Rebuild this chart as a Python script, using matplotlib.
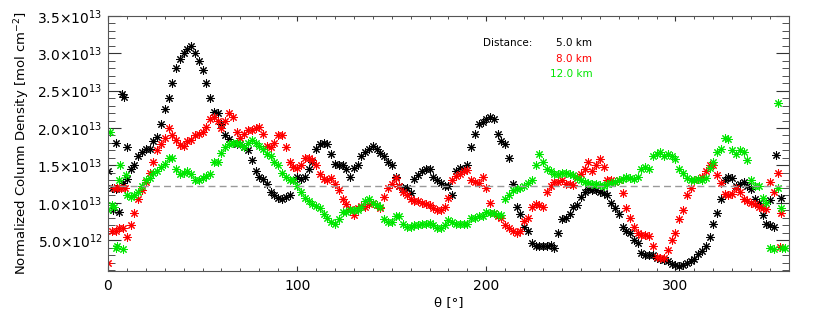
import numpy as np
import matplotlib
matplotlib.use("Agg")
import matplotlib.pyplot as plt
from matplotlib.ticker import FixedLocator, MultipleLocator

SCALE = 1e13
theta = np.arange(0, 360, 2)
nan = np.nan

dens_5km = [
    1.42, 1.2, 1.18, 0.88, 1.27, 1.32, 1.45, 1.5, 1.62, 1.68,
    1.72, 1.72, 1.82, 1.88, 2.05, 2.25, 2.4, 2.6, 2.8, 2.92,
    3.0, 3.05, 3.1, 3.0, 2.9, 2.78, 2.6, 2.4, 2.22, 2.2,
    2.05, 1.9, 1.85, 1.8, 1.78, 1.78, 1.75, 1.7, 1.57, 1.42,
    1.35, 1.32, 1.25, 1.15, 1.1, 1.07, 1.05, 1.08, 1.1, 1.3,
    1.35, 1.32, 1.35, 1.45, 1.55, 1.72, 1.78, 1.8, 1.78, 1.65,
    1.52, 1.5, 1.5, 1.45, 1.35, 1.47, 1.5, 1.62, 1.68, 1.72,
    1.76, 1.72, 1.66, 1.62, 1.55, 1.5, 1.35, 1.22, 1.2, 1.2,
    1.13, 1.32, 1.37, 1.42, 1.45, 1.45, 1.35, 1.3, 1.26, 1.22,
    1.22, 1.1, 1.42, 1.46, 1.45, 1.5, 1.75, 1.92, 2.05, 2.08,
    2.12, 2.15, 2.12, 1.92, 1.82, 1.78, 1.6, 1.25, 0.95, 0.85,
    0.68, 0.62, 0.47, 0.43, 0.42, 0.42, 0.42, 0.44, 0.4, 0.6,
    0.78, 0.8, 0.85, 0.95, 0.97, 1.08, 1.15, 1.18, 1.17, 1.17,
    1.15, 1.13, 1.1, 1.0, 0.93, 0.85, 0.68, 0.63, 0.6, 0.5,
    0.46, 0.33, 0.3, 0.3, 0.3, 0.27, 0.25, 0.24, 0.22, 0.18,
    0.17, 0.16, 0.17, 0.2, 0.22, 0.25, 0.32, 0.36, 0.42, 0.55,
    0.72, 0.87, 1.05, 1.3, 1.35, 1.33, 1.22, 1.25, 1.28, 1.22,
    1.18, 1.05, 1.0, 0.84, 0.72, 0.7, 0.68, nan, 1.07, nan,
]
extra_theta_5km = [2.5, 4, 7.5, 8.5, 10, 350, 353]
extra_dens_5km = [0.9, 1.8, 2.45, 2.42, 1.75, 1.04, 1.64]

dens_8km = [
    0.2, 0.63, 0.63, 0.66, 0.66, 0.55, 0.7, 0.87, 1.05, 1.17,
    1.28, 1.4, 1.55, 1.7, 1.78, 1.87, 2.0, 1.9, 1.84, 1.77,
    1.76, 1.82, 1.84, 1.9, 1.92, 1.95, 2.02, 2.12, 2.15, 2.1,
    2.0, 2.1, 2.2, 2.15, 1.95, 1.87, 1.92, 1.97, 1.98, 2.0,
    2.02, 1.92, 1.76, 1.75, 1.8, 1.9, 1.9, 1.75, 1.55, 1.48,
    1.47, 1.5, 1.6, 1.6, 1.57, 1.5, 1.38, 1.32, 1.3, 1.33,
    1.25, 1.17, 1.05, 0.98, 0.92, 0.84, 0.93, 0.96, 0.95, 0.98,
    1.0, 0.97, 0.93, 1.08, 1.2, 1.25, 1.33, 1.22, 1.15, 1.1,
    1.05, 1.03, 1.02, 1.0, 0.98, 0.97, 0.93, 0.9, 0.9, 0.95,
    1.07, 1.3, 1.36, 1.38, 1.42, 1.44, 1.3, 1.28, 1.27, 1.35,
    1.2, 1.0, 0.87, 0.83, 0.8, 0.7, 0.66, 0.62, 0.6, 0.63,
    0.76, 0.8, 0.95, 0.98, 0.97, 0.95, 1.15, 1.22, 1.28, 1.28,
    1.3, 1.25, 1.25, 1.24, 1.35, 1.38, 1.45, 1.55, 1.42, 1.5,
    1.58, 1.48, 1.3, 1.3, 1.28, 1.3, 1.13, 0.93, 0.8, 0.68,
    0.6, 0.57, 0.57, 0.56, 0.42, 0.28, 0.26, 0.26, 0.37, 0.5,
    0.6, 0.79, 0.9, 1.1, 1.2, 1.3, 1.32, 1.35, 1.43, 1.5,
    1.5, 1.37, 1.27, 1.12, 1.1, 1.12, 1.2, 1.15, 1.05, 1.02,
    1.0, 0.98, 0.95, 0.93, 0.92, 1.28, 1.15, 1.4, 0.87, nan,
]
extra_theta_8km = [3, 5, 7, 9, 355]
extra_dens_8km = [1.2, 1.2, 1.2, 1.2, 0.41]

dens_12km = [
    0.9, 0.97, 0.4, 1.3, 0.38, 1.1, 1.08, 1.1, 1.15, 1.22,
    1.3, 1.33, 1.4, 1.43, 1.48, 1.52, 1.6, 1.6, 1.45, 1.38,
    1.4, 1.42, 1.38, 1.3, 1.3, 1.33, 1.36, 1.38, 1.55, 1.55,
    1.67, 1.75, 1.78, 1.8, 1.8, 1.78, 1.75, 1.8, 1.84, 1.8,
    1.76, 1.72, 1.65, 1.62, 1.55, 1.5, 1.4, 1.35, 1.3, 1.3,
    1.22, 1.15, 1.06, 1.02, 0.98, 0.96, 0.93, 0.85, 0.8, 0.75,
    0.72, 0.78, 0.88, 0.88, 0.9, 0.9, 0.9, 0.95, 1.02, 1.05,
    1.0, 0.97, 0.95, 0.78, 0.75, 0.74, 0.82, 0.83, 0.72, 0.68,
    0.68, 0.7, 0.7, 0.72, 0.72, 0.73, 0.7, 0.67, 0.66, 0.7,
    0.77, 0.74, 0.72, 0.72, 0.72, 0.72, 0.8, 0.8, 0.82, 0.82,
    0.88, 0.87, 0.86, 0.84, 0.84, 1.05, 1.1, 1.17, 1.18, 1.2,
    1.22, 1.27, 1.3, 1.5, 1.65, 1.55, 1.45, 1.42, 1.39, 1.38,
    1.4, 1.4, 1.38, 1.37, 1.33, 1.3, 1.28, 1.27, 1.25, 1.25,
    1.24, 1.22, 1.25, 1.27, 1.28, 1.3, 1.32, 1.35, 1.33, 1.32,
    1.35, 1.45, 1.48, 1.45, 1.62, 1.65, 1.68, 1.63, 1.65, 1.62,
    1.58, 1.45, 1.4, 1.33, 1.3, 1.3, 1.32, 1.3, 1.33, 1.47,
    1.55, 1.68, 1.72, 1.86, 1.85, 1.7, 1.65, 1.7, 1.68, 1.57,
    1.3, 1.22, 1.22, 1.07, 1.0, 0.4, 0.38, 1.2, 0.93, 0.4,
]
extra_theta_12km = [1, 3, 5, 6.5, 9.5, 354, 356.5]
extra_dens_12km = [1.95, 0.95, 0.42, 1.5, 1.37, 2.33, 0.4]

mean_level = 1.23
series_labels = ["5.0 km", "8.0 km", "12.0 km"]
series_colors = ["black", "#ff0000", "#00e600"]

ytick_vals = [0.5, 1.0, 1.5, 2.0, 2.5, 3.0, 3.5]
ytick_labels = ["5.0\u00d710$^{12}$", "1.0\u00d710$^{13}$", "1.5\u00d710$^{13}$",
                "2.0\u00d710$^{13}$", "2.5\u00d710$^{13}$", "3.0\u00d710$^{13}$",
                "3.5\u00d710$^{13}$"]
xtick_vals = [0, 100, 200, 300]

plt.rcParams['font.family'] = ['DejaVu Sans']
fig = plt.figure(figsize=(8.3, 3.2), dpi=100)
ax = fig.add_axes([0.1301, 0.1531, 0.8205, 0.7978])

mk = (8, 2, 0)
all_sets = [
    (dens_5km, extra_theta_5km, extra_dens_5km),
    (dens_8km, extra_theta_8km, extra_dens_8km),
    (dens_12km, extra_theta_12km, extra_dens_12km),
]
for (main, et, ed), col in zip(all_sets, series_colors):
    ax.plot(theta, np.array(main) * SCALE, linestyle='none', marker=mk,
            markersize=6, markeredgewidth=0.75, color=col)
    ax.plot(et, np.array(ed) * SCALE, linestyle='none', marker=mk,
            markersize=6, markeredgewidth=0.75, color=col)

ax.axhline(mean_level * SCALE, color='#999999', linestyle=(0, (5, 3)), linewidth=1.0)

ax.set_xlim(0, 360)
ax.set_ylim(0.09 * SCALE, 3.5 * SCALE)
ax.xaxis.set_major_locator(FixedLocator(xtick_vals))
ax.xaxis.set_minor_locator(MultipleLocator(10))
ax.set_xticklabels([str(v) for v in xtick_vals])
ax.yaxis.set_major_locator(FixedLocator([v * SCALE for v in ytick_vals]))
ax.yaxis.set_minor_locator(MultipleLocator(0.1 * SCALE))
ax.set_yticklabels(ytick_labels)

ax.tick_params(axis='both', which='both', direction='in', top=True, right=True,
               labelsize=10, colors='#333333', labelcolor='black')
ax.tick_params(axis='y', which='major', length=9.5, width=0.8, pad=4)
ax.tick_params(axis='y', which='minor', length=4.7, width=0.6)
ax.tick_params(axis='x', which='major', length=3.8, width=0.8, pad=6)
ax.tick_params(axis='x', which='minor', length=2.0, width=0.6)
for s in ax.spines.values():
    s.set_color('#555555')
    s.set_linewidth(0.8)

ax.set_xlabel("\u03b8 [\u00b0]", fontsize=9.5, labelpad=2)
ax.set_ylabel("Normalized Column Density [mol cm$^{-2}$]", fontsize=9.5, labelpad=4)

ax.text(0.587, 0.895, "Distance:", transform=ax.transAxes, fontsize=7.5,
        ha='center', va='center', color='black')
ypos = [0.895, 0.83, 0.77]
for lab, col, yy in zip(series_labels, series_colors, ypos):
    ax.text(0.711, yy, lab, transform=ax.transAxes, fontsize=7.5,
            ha='right', va='center', color=col)

fig.savefig("out.png", dpi=100)
